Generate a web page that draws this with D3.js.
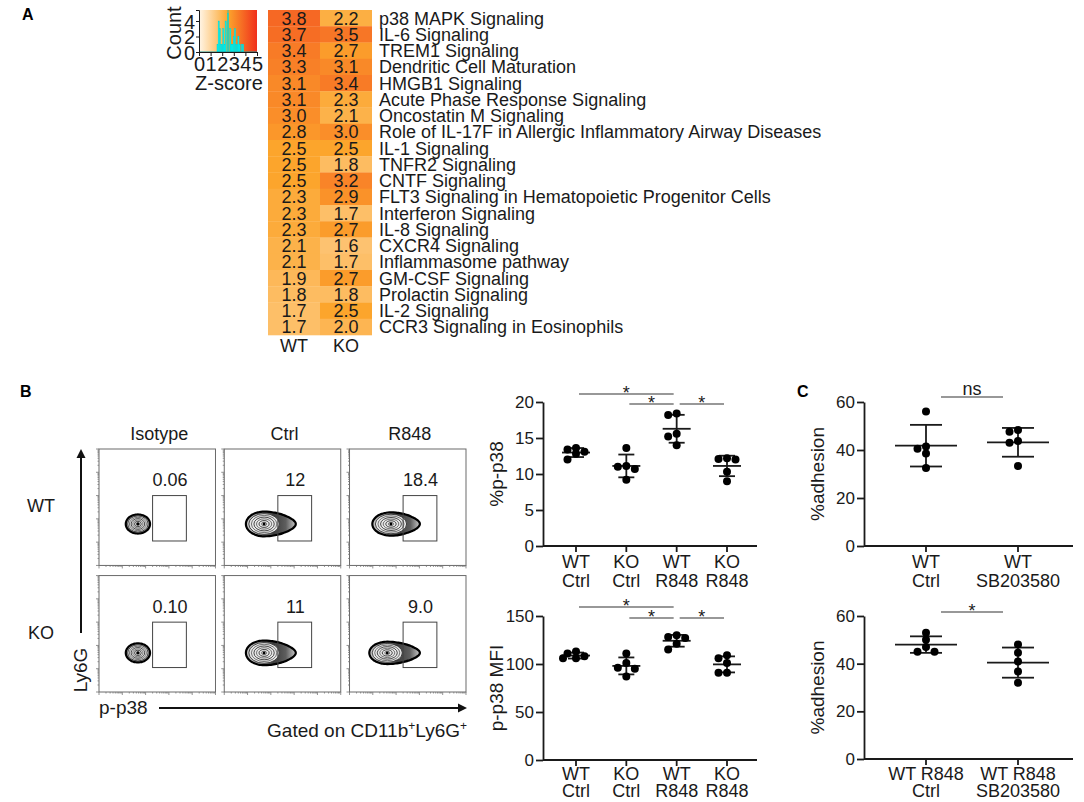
<!DOCTYPE html>
<html>
<head>
<meta charset="utf-8">
<script src="https://cdn.jsdelivr.net/npm/d3@7"></script>
<style>
  body { margin: 0; background: #fff; }
  svg { font-family: "Liberation Sans", Arial, sans-serif; }
</style>
</head>
<body>
<div id="chart"></div>
<script>
// ---------- data ----------
var pathways = ["p38 MAPK Signaling", "IL-6 Signaling", "TREM1 Signaling", "Dendritic Cell Maturation",
    "HMGB1 Signaling", "Acute Phase Response Signaling", "Oncostatin M Signaling",
    "Role of IL-17F in Allergic Inflammatory Airway Diseases", "IL-1 Signaling", "TNFR2 Signaling",
    "CNTF Signaling", "FLT3 Signaling in Hematopoietic Progenitor Cells", "Interferon Signaling",
    "IL-8 Signaling", "CXCR4 Signaling", "Inflammasome pathway", "GM-CSF Signaling",
    "Prolactin Signaling", "IL-2 Signaling", "CCR3 Signaling in Eosinophils"];
var zWT = [3.8, 3.7, 3.4, 3.3, 3.1, 3.1, 3.0, 2.8, 2.5, 2.5, 2.5, 2.3, 2.3, 2.3, 2.1, 2.1, 1.9, 1.8, 1.7, 1.7];
var zKO = [2.2, 3.5, 2.7, 3.1, 3.4, 2.3, 2.1, 3.0, 2.5, 1.8, 3.2, 2.9, 1.7, 2.7, 1.6, 1.7, 2.7, 1.8, 2.5, 2.0];
var heatCols = ["WT", "KO"];
var keyTicksX = [0, 1, 2, 3, 4, 5];
var keyTicksY = [0, 2, 4];
var keyMid = 2.5;

var flowCols = ["Isotype", "Ctrl", "R848"];
var flowRows = ["WT", "KO"];
var flowPct = [["0.06", "12", "18.4"], ["0.10", "11", "9.0"]];
// gate in decades
var gateX = [2.3, 3.75];
var gateY = [1.05, 3.0];
// cell population per plot (decades): core x, core y, spread left, spread right, spread y
var flowPops = [
    [{cx: 1.67, cy: 1.78, left: 0.52, right: 0.52, ry: 0.41},
     {cx: 1.71, cy: 1.78, left: 0.78, right: 1.36, ry: 0.53},
     {cx: 1.78, cy: 1.78, left: 0.80, right: 1.24, ry: 0.50}],
    [{cx: 1.67, cy: 1.68, left: 0.52, right: 0.52, ry: 0.41},
     {cx: 1.71, cy: 1.68, left: 0.78, right: 1.36, ry: 0.53},
     {cx: 1.62, cy: 1.68, left: 0.77, right: 1.40, ry: 0.48}]
];

var p38Groups = [["WT", "Ctrl"], ["KO", "Ctrl"], ["WT", "R848"], ["KO", "R848"]];
var p38Pct = [[13.6, 13.4, 13.1, 12.8, 12.0], [13.6, 11.1, 11.0, 10.7, 9.2],
              [18.4, 18.2, 15.6, 15.2, 14.0], [12.2, 12.1, 12.0, 10.3, 9.0]];
var p38Mfi = [[113, 111, 108, 106, 106], [111, 101, 96, 95, 87],
              [130, 128, 127, 121, 115], [109, 106, 101, 91, 91]];
var p38Stats = [[0, 2, "*"], [1, 2, "*"], [2, 3, "*"]];

var adhGroups1 = [["WT", "Ctrl"], ["WT", "SB203580"]];
var adh1 = [[56, 41.5, 40.5, 38.5, 32.5], [48.3, 47.6, 43.8, 43.0, 33.3]];
var adhGroups2 = [["WT R848", "Ctrl"], ["WT R848", "SB203580"]];
var adh2 = [[53, 50, 47, 45, 45], [48, 44.6, 40.9, 36.7, 32]];

// ---------- svg ----------
var W = 1084, H = 802;
var svg = d3.select("#chart").append("svg").attr("width", W).attr("height", H);
var defs = svg.append("defs");
var ink = "#1a1a1a";

function letter(t, x, y) {
    svg.append("text").attr("x", x).attr("y", y).attr("font-size", 16)
        .attr("font-weight", "bold").text(t);
}
letter("A", 22, 20);
letter("B", 20, 397);
letter("C", 797, 397);

// ---------- A: heatmap ----------
var heatColor = d3.scaleLinear().domain([0, 2.5, 5]).range(["#fff6e8", "#fca52c", "#f0301c"]);
var hx = d3.scaleBand().domain(heatCols).range([268, 372]);
var hy = d3.scaleBand().domain(pathways).range([10, 335]);

var heatData = [];
pathways.forEach(function(p, i) {
    heatData.push({col: "WT", row: p, v: zWT[i]});
    heatData.push({col: "KO", row: p, v: zKO[i]});
});

var hm = svg.append("g");
hm.selectAll("rect").data(heatData).enter().append("rect")
    .attr("x", function(d) { return hx(d.col); })
    .attr("y", function(d) { return hy(d.row); })
    .attr("width", hx.bandwidth())
    .attr("height", hy.bandwidth() + 0.3)
    .attr("fill", function(d) { return heatColor(d.v); });
hm.selectAll("text.val").data(heatData).enter().append("text")
    .attr("class", "val")
    .attr("x", function(d) { return hx(d.col) + hx.bandwidth() / 2; })
    .attr("y", function(d) { return hy(d.row) + hy.bandwidth() / 2 + 6.5; })
    .attr("text-anchor", "middle").attr("font-size", 18).attr("fill", ink)
    .text(function(d) { return d.v.toFixed(1); });
hm.selectAll("text.lab").data(pathways).enter().append("text")
    .attr("class", "lab")
    .attr("x", 379)
    .attr("y", function(d) { return hy(d) + hy.bandwidth() / 2 + 6.5; })
    .attr("font-size", 18).attr("fill", ink)
    .text(function(d) { return d; });
hm.selectAll("text.col").data(heatCols).enter().append("text")
    .attr("class", "col")
    .attr("x", function(d) { return hx(d) + hx.bandwidth() / 2; })
    .attr("y", 352)
    .attr("text-anchor", "middle").attr("font-size", 18).attr("fill", ink)
    .text(function(d) { return d; });

// color key with histogram
var kx = d3.scaleLinear().domain([0, 5]).range([199, 257]);
var ky = d3.scaleLinear().domain([0, 5.42]).range([52, 10]);
var kg = defs.append("linearGradient").attr("id", "keyGrad");
[0, 2.5, 5].forEach(function(v) {
    kg.append("stop").attr("offset", (v / 5 * 100) + "%").attr("stop-color", heatColor(v));
});
var key = svg.append("g");
key.append("rect").attr("x", kx(0)).attr("y", ky(5.42))
    .attr("width", kx(5) - kx(0)).attr("height", ky(0) - ky(5.42))
    .attr("fill", "url(#keyGrad)");

var allZ = zWT.concat(zKO);
var bins = d3.bin().domain([-0.05, 5.05])
    .thresholds(d3.range(0, 51).map(function(i) { return i / 10 - 0.05; }))(allZ);
key.selectAll("rect.bin").data(bins.filter(function(b) { return b.length > 0; }))
    .enter().append("rect").attr("class", "bin")
    .attr("x", function(b) { return kx(b.x0); })
    .attr("width", function(b) { return kx(b.x1) - kx(b.x0); })
    .attr("y", function(b) { return ky(b.length); })
    .attr("height", function(b) { return ky(0) - ky(b.length); })
    .attr("fill", "#00f0f0").attr("stroke", "#00d8d8").attr("stroke-width", 0.4);
key.append("line").attr("x1", kx(keyMid)).attr("x2", kx(keyMid))
    .attr("y1", ky(0)).attr("y2", ky(5.42))
    .attr("stroke", "#33c4a8").attr("stroke-width", 1);
key.append("line").attr("x1", kx(0)).attr("x2", kx(5)).attr("y1", ky(0)).attr("y2", ky(0))
    .attr("stroke", "#1a9a9a").attr("stroke-width", 1.2);

var kAxX = key.append("g").attr("transform", "translate(0," + ky(0) + ")")
    .call(d3.axisBottom(kx).tickValues(keyTicksX).tickSize(4).tickPadding(1).tickFormat(d3.format("d")));
var kAxY = key.append("g").attr("transform", "translate(" + kx(0) + ",0)")
    .call(d3.axisLeft(ky).tickValues(keyTicksY).tickSize(3).tickPadding(1).tickFormat(d3.format("d")));
[kAxX, kAxY].forEach(function(a) {
    a.select(".domain").attr("stroke", ink);
    a.selectAll("text").attr("font-size", 20).attr("font-family", null).attr("fill", ink);
    a.selectAll(".tick line").attr("stroke", ink);
});
kAxY.selectAll("text").attr("dy", "0.36em");
key.append("text").attr("transform", "translate(181,33) rotate(-90)")
    .attr("text-anchor", "middle").attr("font-size", 20).attr("fill", ink).text("Count");
key.append("text").attr("x", 229).attr("y", 90)
    .attr("text-anchor", "middle").attr("font-size", 20).attr("fill", ink).text("Z-score");

// ---------- B: flow plots ----------
var fx = d3.scaleBand().domain(flowCols).range([99, 466]).paddingInner(0.07);
var fy = d3.scaleBand().domain(flowRows).range([449, 692]).paddingInner(0.08);
var bw = fx.bandwidth(), bh = fy.bandwidth();
var dxs = d3.scaleLinear().domain([0, 5]).range([0, bw]);
var dys = d3.scaleLinear().domain([0, 5]).range([bh, 0]);
var majorT = d3.range(0, 6);
var minorT = [];
d3.range(0, 5).forEach(function(d) {
    d3.range(2, 10).forEach(function(k) { minorT.push(d + Math.log10(k)); });
});

var bg = defs.append("linearGradient").attr("id", "blobGrad");
[[0, "#c8c8c8"], [0.3, "#a0a0a0"], [0.55, "#3c3c3c"], [0.8, "#5e5e5e"], [1, "#c8c8c8"]].forEach(function(s) {
    bg.append("stop").attr("offset", s[0]).attr("stop-color", s[1]);
});
var rg = defs.append("radialGradient").attr("id", "isoGrad");
[[0, "#666"], [0.6, "#999"], [1, "#bbb"]].forEach(function(s) {
    rg.append("stop").attr("offset", s[0]).attr("stop-color", s[1]);
});

function drawPop(g, p, iso) {
    var pts = d3.range(0, 72).map(function(i) {
        var t = i / 72 * 2 * Math.PI, c = Math.cos(t), s = Math.sin(t);
        var rx = c < 0 ? p.left : p.right;
        var ry = p.ry * (c > 0 && !iso ? 1 - 0.22 * c * c : 1);
        return [dxs(p.cx + c * rx), dys(p.cy + s * ry)];
    });
    g.append("path")
        .attr("d", d3.line().curve(d3.curveCardinalClosed)(pts))
        .attr("fill", iso ? "url(#isoGrad)" : "url(#blobGrad)")
        .attr("stroke", "#000").attr("stroke-width", 2.2);
    var sx = bw / 5, sy = bh / 5;
    g.append("ellipse")
        .attr("cx", dxs(p.cx)).attr("cy", dys(p.cy))
        .attr("rx", p.left * 0.84 * sx).attr("ry", p.ry * 0.84 * sy)
        .attr("fill", "#e6e6e6").attr("stroke", "#222").attr("stroke-width", 0.8);
    d3.range(1, 6).forEach(function(k) {
        var f = 0.84 - k * 0.14;
        g.append("ellipse")
            .attr("cx", dxs(p.cx)).attr("cy", dys(p.cy))
            .attr("rx", p.left * f * sx).attr("ry", p.ry * f * sy)
            .attr("fill", "none").attr("stroke", k % 2 ? "#555" : "#222").attr("stroke-width", 0.8);
    });
    g.append("circle").attr("cx", dxs(p.cx)).attr("cy", dys(p.cy)).attr("r", 1.4).attr("fill", "#000");
}

flowRows.forEach(function(row, i) {
    flowCols.forEach(function(col, j) {
        var g = svg.append("g").attr("transform", "translate(" + fx(col) + "," + fy(row) + ")");
        g.append("rect").attr("width", bw).attr("height", bh)
            .attr("fill", "none").attr("stroke", "#6a6a6a").attr("stroke-width", 1);
        g.selectAll("line.ly").data(majorT.concat(minorT)).enter().append("line")
            .attr("x1", function(t) { return majorT.indexOf(t) >= 0 ? -3 : -1.5; }).attr("x2", 0)
            .attr("y1", function(t) { return dys(t); }).attr("y2", function(t) { return dys(t); })
            .attr("stroke", "#777").attr("stroke-width", 0.8);
        g.selectAll("line.lx").data(majorT.concat(minorT)).enter().append("line")
            .attr("y1", bh).attr("y2", function(t) { return bh + (majorT.indexOf(t) >= 0 ? 3 : 1.5); })
            .attr("x1", function(t) { return dxs(t); }).attr("x2", function(t) { return dxs(t); })
            .attr("stroke", "#777").attr("stroke-width", 0.8);
        drawPop(g, flowPops[i][j], j === 0);
        g.append("rect")
            .attr("x", dxs(gateX[0])).attr("y", dys(gateY[1]))
            .attr("width", dxs(gateX[1]) - dxs(gateX[0])).attr("height", dys(gateY[0]) - dys(gateY[1]))
            .attr("fill", "none").attr("stroke", "#444").attr("stroke-width", 1);
        g.append("text").attr("x", dxs(3.05)).attr("y", dys(3.4))
            .attr("text-anchor", "middle").attr("font-size", 18).attr("fill", ink)
            .text(flowPct[i][j]);
    });
});

svg.selectAll("text.fcol").data(flowCols).enter().append("text")
    .attr("x", function(d) { return fx(d) + bw / 2 + 2; }).attr("y", 440)
    .attr("text-anchor", "middle").attr("font-size", 18).attr("fill", ink)
    .text(function(d) { return d; });
svg.selectAll("text.frow").data(flowRows).enter().append("text")
    .attr("x", 41).attr("y", function(d) { return fy(d) + 63; })
    .attr("text-anchor", "middle").attr("font-size", 18).attr("fill", ink)
    .text(function(d) { return d; });

// axis arrows
svg.append("line").attr("x1", 81).attr("x2", 81).attr("y1", 633).attr("y2", 456)
    .attr("stroke", "#111").attr("stroke-width", 2);
svg.append("path").attr("d", "M81,449 L76.5,458 L85.5,458 Z").attr("fill", "#111");
svg.append("text").attr("transform", "translate(87,670) rotate(-90)")
    .attr("text-anchor", "middle").attr("font-size", 19).attr("fill", ink).text("Ly6G");
svg.append("line").attr("x1", 159).attr("x2", 459).attr("y1", 708).attr("y2", 708)
    .attr("stroke", "#111").attr("stroke-width", 2);
svg.append("path").attr("d", "M467,708 L458,703.5 L458,712.5 Z").attr("fill", "#111");
svg.append("text").attr("x", 99).attr("y", 714).attr("font-size", 19).attr("fill", ink).text("p-p38");
var gated = svg.append("text").attr("x", 467).attr("y", 737).attr("text-anchor", "end")
    .attr("font-size", 19).attr("fill", ink);
gated.append("tspan").text("Gated on CD11b");
gated.append("tspan").attr("baseline-shift", "super").attr("font-size", 12).text("+");
gated.append("tspan").text("Ly6G");
gated.append("tspan").attr("baseline-shift", "super").attr("font-size", 12).text("+");

// ---------- dot plots ----------
function dotPlot(o) {
    var g = svg.append("g");
    var y = d3.scaleLinear().domain(o.yDomain).range(o.yRange);
    var x = d3.scalePoint().domain(d3.range(o.groups.length)).range(o.centers);
    var r = 4;

    var yAx = g.append("g").attr("transform", "translate(" + o.xLeft + ",0)")
        .call(d3.axisLeft(y).tickValues(o.yTicks).tickSize(7).tickSizeOuter(0).tickPadding(2));
    yAx.select(".domain").attr("stroke", ink).attr("stroke-width", 1.8);
    yAx.selectAll(".tick line").attr("stroke", ink).attr("stroke-width", 1.8);
    yAx.selectAll("text").attr("font-size", 17).attr("font-family", null).attr("fill", ink);

    g.append("line").attr("x1", o.xLeft).attr("x2", o.xRight)
        .attr("y1", y(0)).attr("y2", y(0)).attr("stroke", ink).attr("stroke-width", 1.8);
    o.groups.forEach(function(lab, i) {
        g.append("line").attr("x1", x(i)).attr("x2", x(i)).attr("y1", y(0)).attr("y2", y(0) + 6)
            .attr("stroke", ink).attr("stroke-width", 1.8);
        var t = g.append("text").attr("text-anchor", "middle").attr("font-size", 18).attr("fill", ink);
        t.append("tspan").attr("x", x(i)).attr("y", y(0) + o.labDy[0]).text(lab[0]);
        t.append("tspan").attr("x", x(i)).attr("y", y(0) + o.labDy[1]).text(lab[1]);
    });

    g.append("text").attr("transform", "translate(" + o.labelX + "," + ((o.yRange[0] + o.yRange[1]) / 2) + ") rotate(-90)")
        .attr("text-anchor", "middle").attr("font-size", 19).attr("fill", ink).text(o.label);

    o.values.forEach(function(vals, i) {
        var m = d3.mean(vals), sd = d3.deviation(vals);
        var cx = x(i);
        // mean and SD
        g.append("line").attr("x1", cx - o.meanHalf).attr("x2", cx + o.meanHalf)
            .attr("y1", y(m)).attr("y2", y(m)).attr("stroke", ink).attr("stroke-width", 1.8);
        g.append("line").attr("x1", cx).attr("x2", cx)
            .attr("y1", y(m - sd)).attr("y2", y(m + sd)).attr("stroke", ink).attr("stroke-width", 1.8);
        [m - sd, m + sd].forEach(function(v) {
            g.append("line").attr("x1", cx - o.capHalf).attr("x2", cx + o.capHalf)
                .attr("y1", y(v)).attr("y2", y(v)).attr("stroke", ink).attr("stroke-width", 1.8);
        });
        // simple swarm placement
        var placed = [];
        var cands = [0, -8.5, 8.5, -4.5, 4.5, -13, 13];
        vals.forEach(function(v) {
            var py = y(v), off = 0;
            for (var k = 0; k < cands.length; k++) {
                var ok = placed.every(function(p) {
                    return Math.hypot(p[0] - cands[k], p[1] - py) >= 6.5;
                });
                if (ok) { off = cands[k]; break; }
            }
            placed.push([off, py]);
        });
        g.selectAll(null).data(placed).enter().append("circle")
            .attr("cx", function(p) { return cx + p[0]; })
            .attr("cy", function(p) { return p[1]; })
            .attr("r", r).attr("fill", "#000");
    });

    o.stats.forEach(function(s, k) {
        var ly = y(o.yDomain[1]) + o.levels[k];
        var x1 = x(s[0]) + o.inset, x2 = x(s[1]) - o.inset;
        g.append("line").attr("x1", x1).attr("x2", x2).attr("y1", ly).attr("y2", ly)
            .attr("stroke", "#333").attr("stroke-width", 1.2);
        g.append("text").attr("x", (x1 + x2) / 2).attr("y", s[2] === "*" ? ly + 4.5 : ly - 2)
            .attr("text-anchor", "middle").attr("font-size", 18).attr("fill", ink).text(s[2]);
    });
}

dotPlot({groups: p38Groups, values: p38Pct, yDomain: [0, 20], yTicks: [0, 5, 10, 15, 20],
    yRange: [546, 402], xLeft: 543, xRight: 757, centers: [576, 727], label: "%p-p38", labelX: 503,
    meanHalf: 14, capHalf: 8, stats: p38Stats, levels: [-8, 2, 2], inset: 3, labDy: [22, 41]});
dotPlot({groups: p38Groups, values: p38Mfi, yDomain: [0, 150], yTicks: [0, 50, 100, 150],
    yRange: [760, 616], xLeft: 543, xRight: 757, centers: [576, 727], label: "p-p38 MFI", labelX: 503,
    meanHalf: 14, capHalf: 8, stats: p38Stats, levels: [-9, 2, 2], inset: 3, labDy: [20, 37]});
dotPlot({groups: adhGroups1, values: adh1, yDomain: [0, 60], yTicks: [0, 20, 40, 60],
    yRange: [546, 402], xLeft: 864, xRight: 1073, centers: [926, 1018], label: "%adhesion", labelX: 824,
    meanHalf: 31, capHalf: 16, stats: [[0, 1, "ns"]], levels: [-5], inset: 15, labDy: [22, 41]});
dotPlot({groups: adhGroups2, values: adh2, yDomain: [0, 60], yTicks: [0, 20, 40, 60],
    yRange: [759, 616], xLeft: 864, xRight: 1073, centers: [926, 1018], label: "%adhesion", labelX: 824,
    meanHalf: 31, capHalf: 16, stats: [[0, 1, "*"]], levels: [-4], inset: 15, labDy: [21, 38]});
</script>
</body>
</html>
